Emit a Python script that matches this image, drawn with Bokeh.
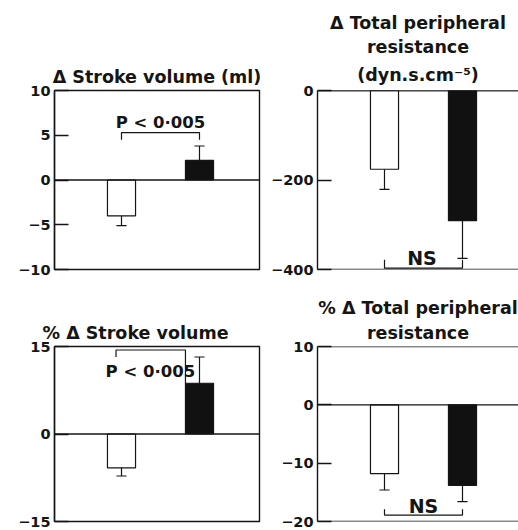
from bokeh.plotting import figure
from bokeh.models import Range1d, FixedTicker, Span, Title
from bokeh.layouts import column, row
from bokeh.embed import file_html
from bokeh.resources import INLINE
from bokeh.core.properties import value

# ---------------- data ----------------
groups = ["open", "filled"]
group_x = [0, 1]
bar_fill = ["white", "#111111"]

sv_change = [-4.0, 2.2]
sv_change_err = [1.1, 1.6]
sv_change_ticks = [10, 5, 0, -5, -10]

tpr_change = [-176, -291]
tpr_change_err = [45, 84]
tpr_change_ticks = [0, -200, -400]

sv_pct = [-5.8, 8.7]
sv_pct_err = [1.4, 4.5]
sv_pct_ticks = [15, 0, -15]

tpr_pct = [-11.8, -13.8]
tpr_pct_err = [2.8, 2.8]
tpr_pct_ticks = [10, 0, -10, -20]

# titles (one entry per line)
sv_change_title = ["Δ Stroke volume (ml)"]
tpr_change_title = ["Δ Total peripheral", "resistance", "(dyn.s.cm\u207b\u2075)"]
sv_pct_title = ["% Δ Stroke volume"]
tpr_pct_title = ["% Δ Total peripheral", "resistance"]

# significance annotations (data units)
sv_change_note = "P < 0·005"
sv_change_note_xy = (0.5, 6.4)
sv_change_bracket_x = [0, 0, 1, 1]
sv_change_bracket_y = [4.5, 5.3, 5.3, 4.5]

tpr_change_note = "NS"
tpr_change_note_xy = (0.48, -374)
tpr_change_bracket_x = [0, 0, 1, 1]
tpr_change_bracket_y = [-378, -397, -397, -378]

sv_pct_note = "P < 0·005"
sv_pct_note_xy = (0.37, 10.7)
sv_pct_bracket_x = [-0.07, -0.07, 0.82, 0.82]
sv_pct_bracket_y = [13.2, 14.4, 14.4, 8.7]

tpr_pct_note = "NS"
tpr_pct_note_xy = (0.5, -17.3)
tpr_pct_bracket_x = [0, 0, 1, 1]
tpr_pct_bracket_y = [-17.9, -18.9, -18.9, -17.9]

# ---------------- style ----------------
INK = "#151515"
FONT = "DejaVu Sans"
PX_PER_UNIT = 78.0      # horizontal pixels between the two bars
LEFT_OFFSET = 67.0      # pixels from frame left to first bar centre
BAR_W = 0.36
CAP = 0.065
LW = 1.4


def minus(v):
    return ("\u2212" + str(abs(v))) if v < 0 else str(v)


def panel(width, height, bl, br, bt, bb, frame_w, ylo, yhi, ticks, vals, errs,
          title_lines, talign, toffset, t_first, t_gap, t_lh, boxed,
          note, note_xy, note_size, bx, by):
    x0 = -LEFT_OFFSET / PX_PER_UNIT
    p = figure(width=width, height=height, output_backend="svg", toolbar_location=None,
               x_range=Range1d(x0, x0 + frame_w / PX_PER_UNIT), y_range=Range1d(ylo, yhi),
               min_border_left=bl, min_border_right=br, min_border_top=bt, min_border_bottom=bb)
    p.background_fill_color = "white"
    p.border_fill_color = "white"
    p.xgrid.visible = False
    p.ygrid.visible = False
    p.xaxis.visible = False
    if boxed:
        p.outline_line_color = INK
        p.outline_line_width = LW
        p.outline_line_alpha = 1.0
    else:
        p.outline_line_color = None
        p.add_layout(Span(location=yhi, dimension="width", line_color=INK, line_width=LW))
        p.add_layout(Span(location=ylo, dimension="width", line_color=INK, line_width=LW))
    ax = p.yaxis[0]
    ax.ticker = FixedTicker(ticks=ticks)
    ax.major_label_overrides = {t: minus(t) for t in ticks}
    ax.major_tick_in = 14
    ax.major_tick_out = 0
    ax.minor_tick_line_color = None
    ax.axis_line_color = INK
    ax.axis_line_width = LW
    ax.major_tick_line_color = INK
    ax.major_tick_line_width = LW
    ax.major_label_text_font = FONT
    ax.major_label_text_font_style = "bold"
    ax.major_label_text_font_size = "14.5px"
    ax.major_label_text_color = INK
    ax.major_label_standoff = 4

    # zero line
    p.add_layout(Span(location=0, dimension="width", line_color=INK, line_width=LW))

    # bars
    p.vbar(x=group_x, top=vals, bottom=0, width=BAR_W, fill_color=bar_fill,
           line_color=INK, line_width=1.2)
    # error bars (one-sided, away from zero)
    ends = [v - e if v < 0 else v + e for v, e in zip(vals, errs)]
    p.segment(x0=group_x, y0=vals, x1=group_x, y1=ends, line_color=INK, line_width=1.2)
    p.segment(x0=[x - CAP for x in group_x], y0=ends, x1=[x + CAP for x in group_x], y1=ends,
              line_color=INK, line_width=1.2)

    # significance bracket and note
    p.line(x=bx, y=by, line_color=INK, line_width=1.2)
    p.text(x=[note_xy[0]], y=[note_xy[1]], text=[note], text_align="center",
           text_baseline="middle", text_font=value(FONT), text_font_style="bold",
           text_font_size=note_size, text_color=INK)

    # title lines, added bottom line first (each new one stacks above)
    for i, line in enumerate(reversed(title_lines)):
        p.add_layout(Title(text=line, align=talign, offset=toffset,
                           standoff=t_first if i == 0 else t_gap,
                           text_font=FONT, text_font_style="bold", text_font_size="17.5px",
                           text_line_height=t_lh, text_color=INK), "above")
    return p


p1 = panel(263, 278, 54, 4, 90, 9, 205, -10, 10, sv_change_ticks, sv_change, sv_change_err,
           sv_change_title, "center", 0, 6.5, 0, 1.2, True,
           sv_change_note, sv_change_note_xy, "16.5px", sv_change_bracket_x, sv_change_bracket_y)
p2 = panel(255, 278, 54, 0, 90, 9, 201, -400, 0, tpr_change_ticks, tpr_change, tpr_change_err,
           tpr_change_title, "center", 3, 11, 1.5, 1.2, False,
           tpr_change_note, tpr_change_note_xy, "19px", tpr_change_bracket_x, tpr_change_bracket_y)
p3 = panel(263, 252, 54, 4, 68, 9, 205, -15, 15, sv_pct_ticks, sv_pct, sv_pct_err,
           sv_pct_title, "left", -12, 7, 0, 1.2, True,
           sv_pct_note, sv_pct_note_xy, "16.5px", sv_pct_bracket_x, sv_pct_bracket_y)
p4 = panel(255, 252, 54, 0, 68, 9, 201, -20, 10, tpr_pct_ticks, tpr_pct, tpr_pct_err,
           tpr_pct_title, "center", 3, 6.5, 0, 0.95, False,
           tpr_pct_note, tpr_pct_note_xy, "19px", tpr_pct_bracket_x, tpr_pct_bracket_y)

layout = column(row(p1, p2), row(p3, p4))
open("out.html", "w").write(file_html(layout, INLINE))
